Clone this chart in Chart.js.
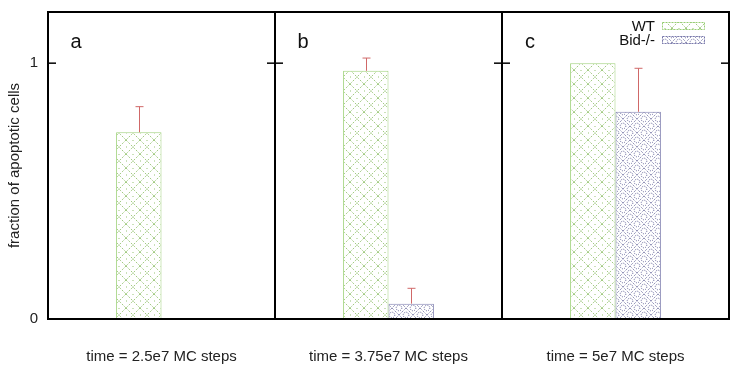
<!DOCTYPE html>
<html>
<head>
<meta charset="utf-8">
<script src="https://cdn.jsdelivr.net/npm/chart.js@4.4.0/dist/chart.umd.min.js"></script>
<style>
  html, body { margin: 0; padding: 0; background: #ffffff; }
  #wrap { width: 733px; height: 371px; position: relative; }
</style>
</head>
<body>
<div id="wrap"><canvas id="c" width="733" height="371"></canvas></div>
<script>
const categories = ["time = 2.5e7 MC steps", "time = 3.75e7 MC steps", "time = 5e7 MC steps"];
const panelLetters = ["a", "b", "c"];
const seriesNames = ["WT", "Bid-/-"];
const wtValues = [0.73, 0.97, 1.0];
const wtErrTop = [0.83, 1.02, null];
const bidValues = [null, 0.06, 0.81];
const bidErrTop = [null, 0.12, 0.98];
const yTickValues = [0, 1];
const yMax = 1.2;

function makeWTPattern() {
  const s = 14;
  const c = document.createElement('canvas');
  c.width = s; c.height = s;
  const g = c.getContext('2d');
  g.fillStyle = '#ffffff';
  g.fillRect(0, 0, s, s);
  g.strokeStyle = 'rgba(140,190,100,0.9)';
  g.lineWidth = 0.9;
  g.setLineDash([2, 1.5]);
  g.beginPath();
  g.moveTo(0, 0); g.lineTo(s, s);
  g.moveTo(s, 0); g.lineTo(0, s);
  g.stroke();
  g.fillStyle = 'rgba(140,190,100,0.9)';
  g.fillRect(s / 2 - 0.5, 0, 1, 1);
  g.fillRect(0, s / 2 - 0.5, 1, 1);
  return g.createPattern(c, 'repeat');
}

function makeBidPattern() {
  const s = 14;
  const c = document.createElement('canvas');
  c.width = s; c.height = s;
  const g = c.getContext('2d');
  g.fillStyle = '#ffffff';
  g.fillRect(0, 0, s, s);
  g.strokeStyle = 'rgba(95,95,150,0.95)';
  g.lineWidth = 1;
  g.setLineDash([1, 1.2]);
  g.beginPath();
  g.moveTo(0, 0); g.lineTo(s, s);
  g.moveTo(s, 0); g.lineTo(0, s);
  g.stroke();
  [[s / 2, 0], [s / 2, s], [0, s / 2], [s, s / 2]].forEach(p => {
    g.beginPath();
    g.arc(p[0], p[1], 2.8, 0, Math.PI * 2);
    g.stroke();
  });
  return g.createPattern(c, 'repeat');
}

const wtFill = makeWTPattern();
const bidFill = makeBidPattern();
const errTops = [wtErrTop, bidErrTop];
const fontFam = '"Liberation Sans", Arial, sans-serif';

const decorPlugin = {
  id: 'decor',
  afterDatasetsDraw(chart) {
    const ctx = chart.ctx;
    const ya = chart.scales.y;
    const area = chart.chartArea;
    ctx.save();
    // error bars
    ctx.strokeStyle = '#d06868';
    ctx.lineWidth = 1;
    errTops.forEach((tops, di) => {
      const meta = chart.getDatasetMeta(di);
      meta.data.forEach((el, j) => {
        if (tops[j] == null) return;
        const x = Math.round(el.x) + 0.5;
        const y1 = ya.getPixelForValue(tops[j]);
        ctx.beginPath();
        ctx.moveTo(x, el.y);
        ctx.lineTo(x, y1);
        ctx.moveTo(x - 4, y1);
        ctx.lineTo(x + 4, y1);
        ctx.stroke();
      });
    });
    // frame
    ctx.strokeStyle = '#000000';
    ctx.lineWidth = 2;
    ctx.strokeRect(area.left, area.top, area.right - area.left, area.bottom - area.top);
    // dividers and tick marks
    const n = categories.length;
    const step = (area.right - area.left) / n;
    for (let i = 0; i <= n; i++) {
      const bx = area.left + i * step;
      if (i > 0 && i < n) {
        ctx.lineWidth = 2;
        ctx.beginPath();
        ctx.moveTo(bx, area.top);
        ctx.lineTo(bx, area.bottom);
        ctx.stroke();
      }
      ctx.lineWidth = 1.5;
      yTickValues.forEach(v => {
        const ty = ya.getPixelForValue(v);
        const l = i === 0 ? 0 : 8;
        const r = i === n ? 0 : 8;
        ctx.beginPath();
        ctx.moveTo(bx - l, ty);
        ctx.lineTo(bx + r, ty);
        ctx.stroke();
      });
    }
    // panel letters
    ctx.fillStyle = '#111111';
    ctx.font = '20px ' + fontFam;
    ctx.textAlign = 'center';
    ctx.textBaseline = 'middle';
    panelLetters.forEach((t, i) => {
      ctx.fillText(t, area.left + i * step + 28, area.top + 30);
    });
    // legend
    ctx.font = '15px ' + fontFam;
    ctx.textAlign = 'right';
    const fills = [wtFill, bidFill];
    const borders = ['rgba(140,200,100,0.9)', 'rgba(110,110,165,0.9)'];
    seriesNames.forEach((name, i) => {
      const cy = area.top + 14 + i * 14;
      ctx.fillStyle = '#111111';
      ctx.fillText(name, area.right - 74, cy + 1);
      ctx.fillStyle = fills[i];
      ctx.fillRect(area.right - 67, cy - 4, 43, 8);
      ctx.strokeStyle = borders[i];
      ctx.lineWidth = 1;
      ctx.setLineDash([2, 1]);
      ctx.strokeRect(area.right - 66.5, cy - 3.5, 42, 7);
      ctx.setLineDash([]);
    });
    ctx.restore();
  }
};

new Chart(document.getElementById('c'), {
  type: 'bar',
  data: {
    labels: categories,
    datasets: [
      {
        label: seriesNames[0],
        data: wtValues,
        backgroundColor: wtFill,
        borderColor: 'rgba(150,205,110,0.9)',
        borderWidth: 1,
        categoryPercentage: 0.4,
        barPercentage: 1.0
      },
      {
        label: seriesNames[1],
        data: bidValues,
        backgroundColor: bidFill,
        borderColor: 'rgba(110,110,165,0.85)',
        borderWidth: 1,
        categoryPercentage: 0.4,
        barPercentage: 1.0
      }
    ]
  },
  options: {
    responsive: false,
    animation: false,
    layout: { padding: { top: 12, right: 4, left: 0, bottom: 0 } },
    plugins: {
      legend: { display: false },
      tooltip: { enabled: false }
    },
    scales: {
      x: {
        grid: { display: false, drawTicks: false },
        border: { display: false },
        ticks: {
          color: '#222222',
          padding: 29,
          maxRotation: 0,
          font: { family: fontFam, size: 15 }
        },
        afterFit(scale) {
          scale.height = 52;
          scale.paddingLeft = 0; scale.paddingRight = 0;
        }
      },
      y: {
        min: 0,
        max: yMax,
        afterBuildTicks(scale) { scale.ticks = yTickValues.map(v => ({ value: v })); },
        grid: { display: false, drawTicks: false },
        border: { display: false },
        ticks: {
          color: '#222222',
          padding: 10,
          font: { family: fontFam, size: 15 },
          callback: (v) => String(v)
        },
        title: {
          display: true,
          text: 'fraction of apoptotic cells',
          color: '#222222',
          padding: { top: 6, bottom: 0 },
          font: { family: fontFam, size: 15 }
        },
        afterFit(scale) {
          scale.width = 48;
          scale.paddingTop = 0; scale.paddingBottom = 0;
        }
      }
    }
  },
  plugins: [decorPlugin]
});
</script>
</body>
</html>
